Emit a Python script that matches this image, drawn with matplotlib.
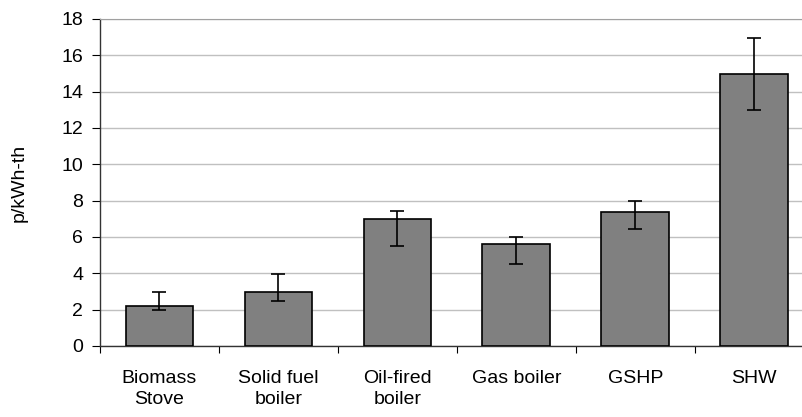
import numpy as np
import matplotlib
matplotlib.use("Agg")
import matplotlib.pyplot as plt

plt.rcParams["font.family"] = ["Liberation Sans", "DejaVu Sans"]

# heating technologies and cost in p/kWh-th
categories = ["Biomass\nStove", "Solid fuel\nboiler", "Oil-fired\nboiler",
              "Gas boiler", "GSHP", "SHW"]
cost = [2.2, 2.95, 7.0, 5.6, 7.4, 14.95]
err_low = [2.0, 2.45, 5.5, 4.5, 6.45, 13.0]
err_high = [2.95, 3.95, 7.45, 6.0, 8.0, 16.95]

x = np.arange(len(categories))
yerr = [np.array(cost) - np.array(err_low), np.array(err_high) - np.array(cost)]

fig = plt.figure(figsize=(8.03, 4.17), dpi=100)
ax = fig.add_axes([0.1245, 0.1703, 0.889, 0.7842])

ax.bar(x, cost, width=0.57, color="#808080", edgecolor="black", linewidth=1.2,
       zorder=3)
ax.errorbar(x, cost, yerr=yerr, fmt="none", ecolor="black", elinewidth=1.2,
            capsize=4.8, capthick=1.2, zorder=4)

ax.set_xlim(-0.5, len(categories) - 0.5)
ax.set_ylim(0, 18)
ax.set_yticks(np.arange(0, 19, 2))
ax.yaxis.grid(True, color="#c0c0c0", linewidth=1.0, zorder=0)
ax.set_axisbelow(True)

ax.set_xticks(x)
ax.set_xticklabels(categories, fontsize=14, linespacing=1.35)
ax.set_xticks(np.arange(-0.5, len(categories), 1.0), minor=True)
ax.tick_params(axis="x", which="major", length=0, pad=17)
ax.tick_params(axis="x", which="minor", length=5, width=0.8, direction="out")
ax.tick_params(axis="y", labelsize=14, length=6, width=0.8, pad=6)

ax.set_ylabel("p/kWh-th", fontsize=14)
ax.yaxis.set_label_coords(-0.101, 0.5)

for side in ["left", "bottom"]:
    ax.spines[side].set_color("#333333")
    ax.spines[side].set_linewidth(1.0)
ax.spines["top"].set_color("#a0a0a0")
ax.spines["right"].set_visible(False)

fig.savefig("out.png", dpi=100)
